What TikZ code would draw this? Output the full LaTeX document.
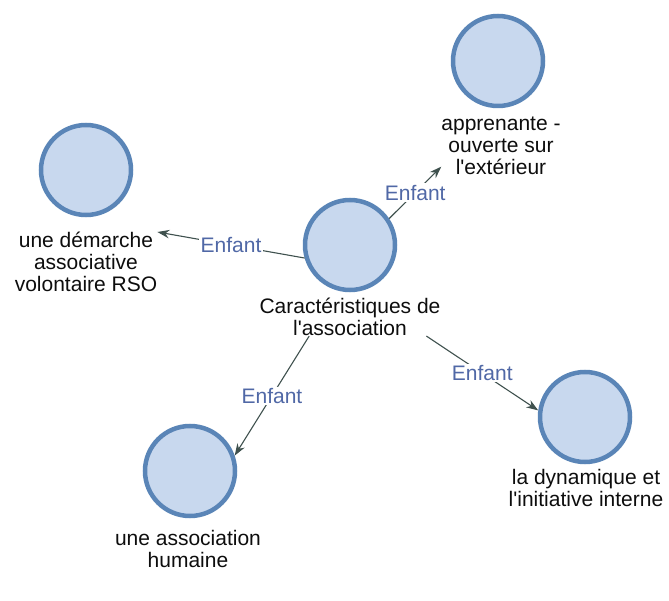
\documentclass[tikz,border=0pt]{standalone}
\usepackage{fontspec}
\setmainfont{Liberation Sans}[Ligatures=TeXOff]
\usetikzlibrary{arrows.meta, positioning}
\definecolor{ringblue}{HTML}{5A85B7}
\definecolor{bubblefill}{HTML}{C8D8EE}
\definecolor{linkgray}{HTML}{3F514E}
\definecolor{tagblue}{HTML}{5068A6}

\begin{document}
\begin{tikzpicture}[x=1pt, y=-1pt,
    bubble/.style={circle, draw=ringblue, fill=bubblefill, line width=4.5pt, minimum size=90pt, inner sep=0pt},
    caption/.style={anchor=north, align=center, inner sep=0pt, font=\fontsize{21}{22}\selectfont, text=black!95},
    arrow/.style={-{Stealth[length=12pt, width=8.5pt]}, line width=1.1pt, draw=linkgray},
    childtag/.style={midway, fill=white, inner sep=1.5pt, text=tagblue, font=\fontsize{21}{22}\selectfont}
]
    \useasboundingbox (0,0) rectangle (669,601);

    % central topic
    \node[bubble] (car) at (350,245) {};
    \node[caption] (cart) at (350,298) {Caractéristiques de\\l'association};

    % children
    \node[bubble] (appr) at (498,61) {};
    \node[caption] (apprt) at (501,117) {apprenante -\\ouverte sur\\l'extérieur};
    \node[bubble] (dem) at (86,170) {};
    \node[caption] (demt) at (86,232) {une démarche\\associative\\volontaire RSO};
    \node[bubble] (hum) at (190,471) {};
    \node[caption] (humt) at (188,530) {une association\\humaine};
    \node[bubble] (dyn) at (585,417) {};
    \node[caption] (dynt) at (586,469) {la dynamique et\\l'initiative interne};

    % links
    \draw[arrow] (car.34) -- node[childtag] {Enfant} (apprt.199);
    \draw[arrow] (car.196) -- node[childtag] {Enfant} (demt.north east);
    \draw[arrow] (cart.205) -- node[childtag] {Enfant} (hum.19);
    \draw[arrow] (cart.346) -- node[childtag] {Enfant} (dyn.172);
\end{tikzpicture}
\end{document}
